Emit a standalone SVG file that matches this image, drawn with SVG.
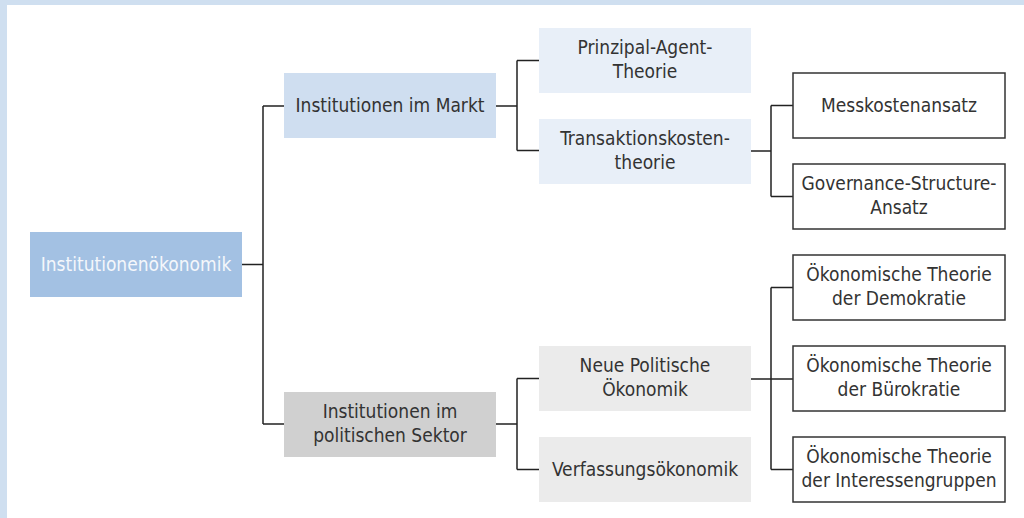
<svg xmlns="http://www.w3.org/2000/svg" width="1024" height="518" viewBox="0 0 1024 518">
<style>
text{font-family:"DejaVu Sans Condensed","Liberation Sans",Arial,sans-serif;font-size:19px;fill:#333;text-anchor:middle}
.root{fill:#a3c1e3}
.l1a{fill:#cfdef0}
.l1b{fill:#d0d0d0}
.l2a{fill:#e8eff8}
.l2b{fill:#ebebeb}
.l3{fill:#fff;stroke:#333;stroke-width:1.5}
.conn path{fill:none;stroke:#222;stroke-width:1.5}
</style>
<rect x="0" y="0" width="1024" height="518" fill="#fff"/>
<rect x="0" y="0" width="1024" height="5" fill="#cfdff0"/>
<rect x="0" y="0" width="7" height="518" fill="#cfdff0"/>
<g class="conn">
<path d="M242 264.5H263M263 106V424M263 106H284M263 424H284"/>
<path d="M496 106H517M517 60.5V150.5M517 60.5H539M517 150.5H539"/>
<path d="M751 151H771M771 105.5V196.5M771 105.5H793M771 196.5H793"/>
<path d="M496 424H517M517 378.5V469.5M517 378.5H539M517 469.5H539"/>
<path d="M751 379H771M771 287.5V469.5M771 287.5H793M771 379H793M771 469.5H793"/>
</g>
<g id="root"><rect class="root" x="30" y="232" width="212" height="65"/><text x="136" y="271" style="fill:#f4f7fb">Institutionenökonomik</text></g>
<g id="markt"><rect class="l1a" x="284" y="73" width="212" height="65"/><text x="390" y="112">Institutionen im Markt</text></g>
<g id="polit"><rect class="l1b" x="284" y="392" width="212" height="65"/><text x="390" y="418">Institutionen im</text><text x="390" y="442">politischen Sektor</text></g>
<g id="pa"><rect class="l2a" x="539" y="28" width="212" height="65"/><text x="645" y="54">Prinzipal-Agent-</text><text x="645" y="78">Theorie</text></g>
<g id="tk"><rect class="l2a" x="539" y="119" width="212" height="65"/><text x="645" y="145">Transaktionskosten-</text><text x="645" y="169">theorie</text></g>
<g id="npo"><rect class="l2b" x="539" y="346" width="212" height="65"/><text x="645" y="372">Neue Politische</text><text x="645" y="396">Ökonomik</text></g>
<g id="vo"><rect class="l2b" x="539" y="437" width="212" height="65"/><text x="645" y="476">Verfassungsökonomik</text></g>
<g id="mk"><rect class="l3" x="793" y="73" width="212" height="65"/><text x="899" y="112">Messkostenansatz</text></g>
<g id="gs"><rect class="l3" x="793" y="164" width="212" height="65"/><text x="899" y="190">Governance-Structure-</text><text x="899" y="214">Ansatz</text></g>
<g id="otd"><rect class="l3" x="793" y="255" width="212" height="65"/><text x="899" y="281">Ökonomische Theorie</text><text x="899" y="305">der Demokratie</text></g>
<g id="otb"><rect class="l3" x="793" y="346" width="212" height="65"/><text x="899" y="372">Ökonomische Theorie</text><text x="899" y="396">der Bürokratie</text></g>
<g id="oti"><rect class="l3" x="793" y="437" width="212" height="65"/><text x="899" y="463">Ökonomische Theorie</text><text x="899" y="487">der Interessengruppen</text></g>
</svg>
